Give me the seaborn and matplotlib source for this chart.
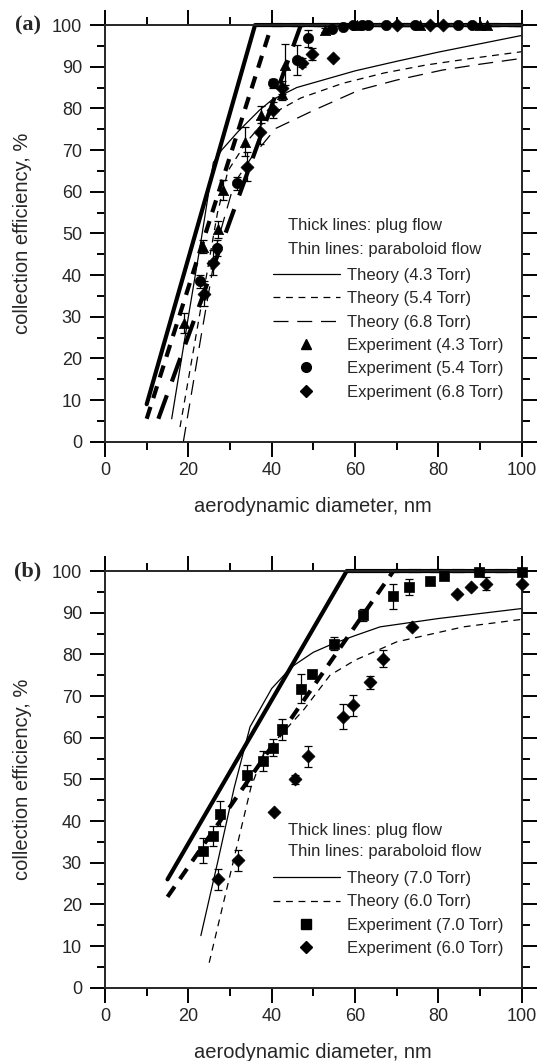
import numpy as np
import matplotlib
matplotlib.use("Agg")
import matplotlib.pyplot as plt
from matplotlib.lines import Line2D
import seaborn as sns

# ---------------- panel (a) ----------------
# plug flow (thick lines)
plug_a_43_x = [10, 36, 100]
plug_a_43_y = [9, 100, 100]
plug_a_54_x = [10, 40, 100]
plug_a_54_y = [5.5, 100, 100]
plug_a_68_x = [12.8, 47, 100]
plug_a_68_y = [5.5, 100, 100]

# paraboloid flow (thin lines)
par_a_43_x = [16, 20, 23, 26, 28, 32, 37, 40, 46, 53, 60, 70, 80, 90, 100]
par_a_43_y = [5.5, 30, 48, 67, 70, 74.5, 79.5, 82, 85, 87, 89, 91.3, 93.5, 95.5, 97.5]
par_a_54_x = [18, 22.8, 27, 29.5, 34, 39.6, 47, 57, 67, 77, 88, 100]
par_a_54_y = [3.5, 31, 55, 65, 72, 78.4, 82.5, 86, 88.5, 90.4, 92, 93.6]
par_a_68_x = [18.8, 23, 27, 31, 35, 41, 50, 61, 70, 81, 90, 100]
par_a_68_y = [0, 25, 48, 62, 68, 75.2, 79.5, 84.4, 86.8, 89.2, 90.6, 92]

# experiments
exp_a_43_x = [19.0, 23.6, 27.2, 28.2, 33.6, 37.5, 42.5, 43.2, 52.8, 60.5, 75.6, 90.0, 91.6]
exp_a_43_y = [28.5, 46.8, 51.0, 60.4, 72.0, 78.5, 83.5, 90.5, 98.8, 100, 100, 100, 100]
exp_a_43_e = [2.5, 1.5, 2.0, 2.5, 3.5, 2.0, 1.5, 5.0, 0.5, 0, 0, 0, 0]

exp_a_54_x = [22.8, 26.8, 31.6, 40.4, 46.0, 48.6, 54.5, 57.2, 59.6, 61.6, 63.2, 67.4, 74.4, 84.8, 88.0]
exp_a_54_y = [38.5, 46.5, 62.0, 86.0, 91.5, 96.8, 99.0, 99.6, 100, 100, 100, 100, 100, 100, 100]
exp_a_54_e = [1.5, 2.0, 1.5, 1.0, 3.6, 2.0, 0.5, 0.3, 0, 0, 0, 0, 0, 0, 0]

exp_a_68_x = [23.8, 26.0, 34.0, 37.2, 40.4, 42.4, 47.2, 49.6, 54.8, 70.0, 78.0, 81.2]
exp_a_68_y = [35.5, 43.0, 66.0, 74.4, 79.6, 85.0, 91.0, 93.0, 92.2, 100, 100, 100]
exp_a_68_e = [3.0, 3.0, 3.5, 3.0, 2.0, 1.5, 1.0, 1.5, 0, 0, 0, 0]

# ---------------- panel (b) ----------------
plug_b_70_x = [15, 58, 100]
plug_b_70_y = [26, 100, 100]
plug_b_60_x = [15, 69.2, 100]
plug_b_60_y = [21.8, 100, 100]

par_b_70_x = [23, 27, 31, 34.8, 40, 44.8, 50, 54.8, 60, 66, 80, 90, 100]
par_b_70_y = [12.5, 30, 48, 62.6, 71.8, 77, 80.5, 82.6, 84.5, 86.6, 88.6, 89.8, 91]
par_b_60_x = [25, 30, 35, 38, 42, 47.6, 54, 60, 70, 86, 100]
par_b_60_y = [6, 27, 48, 56, 60.5, 66.6, 75, 78.6, 83, 86.6, 88.4]

exp_b_70_x = [23.6, 26.0, 27.6, 34.0, 38.0, 40.2, 42.4, 47.0, 49.6, 55.0, 62.0, 69.0, 73.0, 78.0, 81.4, 89.8, 100]
exp_b_70_y = [32.9, 36.4, 41.7, 51.0, 54.4, 57.6, 62.0, 71.8, 75.3, 82.6, 89.5, 94.0, 96.2, 97.6, 98.9, 99.8, 99.8]
exp_b_70_e = [3.0, 2.5, 3.0, 2.5, 2.5, 2.0, 2.5, 3.5, 1.0, 1.5, 1.5, 3.0, 2.0, 0, 0, 1.0, 0]

exp_b_60_x = [27.0, 31.8, 40.6, 45.6, 48.8, 57.0, 59.4, 63.6, 66.6, 73.7, 84.5, 87.8, 91.4, 100]
exp_b_60_y = [26.0, 30.6, 42.1, 50.0, 55.5, 65.0, 67.8, 73.3, 79.0, 86.5, 94.5, 96.1, 97.0, 97.0]
exp_b_60_e = [2.5, 2.5, 0.3, 1.0, 2.5, 3.0, 2.5, 1.5, 2.0, 0.5, 0, 0.5, 1.5, 0]

# ---------------- styles ----------------
sns.set_style("ticks")
plt.rcParams['font.family'] = ['Liberation Sans', 'DejaVu Sans']

THICK = 3.0
THIN = 0.9
SHORT = (0, (3.0, 2.2))
LONG = (0, (6.0, 3.5))
THIN_SHORT = (0, (5.5, 4.5))
THIN_LONG = (0, (12, 7))
LEG_FS = 12


def line(ax, x, y, lw, ls):
    sns.lineplot(x=x, y=y, ax=ax, color='black', linewidth=lw, linestyle=ls,
                 estimator=None, sort=False, clip_on=False, legend=False)


def points(ax, x, y, e, marker, s):
    ax.errorbar(x, y, yerr=e, fmt='none', ecolor='black', elinewidth=0.9,
                capsize=3.2, capthick=0.9, zorder=3)
    sns.scatterplot(x=x, y=y, ax=ax, marker=marker, s=s, color='black',
                    edgecolor='black', linewidth=0.5, zorder=4, legend=False,
                    clip_on=False)


def style_axes(ax):
    ax.set_xlim(0, 100)
    ax.set_ylim(0, 100)
    ax.set_xticks(np.arange(0, 101, 20))
    ax.set_xticks(np.arange(10, 100, 20), minor=True)
    ax.set_yticks(np.arange(0, 101, 10))
    ax.set_yticks(np.arange(5, 100, 10), minor=True)
    for sp in ax.spines.values():
        sp.set_visible(True)
        sp.set_linewidth(1.4)
    ax.tick_params(which='both', direction='out', top=True, right=True,
                   labeltop=False, labelright=False, width=1.4, color='black')
    ax.tick_params(which='major', length=10.8, labelsize=13)
    ax.tick_params(which='minor', length=5.8)
    ax.tick_params(axis='x', which='major', pad=3.6)
    ax.tick_params(axis='y', which='major', pad=5.8)
    ax.set_xlabel('aerodynamic diameter, nm', fontsize=14.5)
    ax.set_ylabel('collection efficiency, %', fontsize=14.5)
    ax.xaxis.set_label_coords(0.5, -0.133)
    ax.yaxis.set_label_coords(-0.175, 0.5)


fig = plt.figure(figsize=(5.49, 10.61), dpi=100)
ax_a = fig.add_axes([0.1913, 0.5837, 0.759, 0.3927])
ax_b = fig.add_axes([0.1913, 0.0691, 0.759, 0.3927])

# ---- panel (a) drawing ----
line(ax_a, plug_a_43_x, plug_a_43_y, THICK, '-')
line(ax_a, plug_a_54_x, plug_a_54_y, THICK, SHORT)
line(ax_a, plug_a_68_x, plug_a_68_y, THICK, LONG)
line(ax_a, par_a_43_x, par_a_43_y, THIN, '-')
line(ax_a, par_a_54_x, par_a_54_y, THIN, THIN_SHORT)
line(ax_a, par_a_68_x, par_a_68_y, THIN, THIN_LONG)
points(ax_a, exp_a_43_x, exp_a_43_y, exp_a_43_e, '^', 55)
points(ax_a, exp_a_54_x, exp_a_54_y, exp_a_54_e, 'o', 55)
points(ax_a, exp_a_68_x, exp_a_68_y, exp_a_68_e, 'D', 44)
style_axes(ax_a)

handles_a = [
    Line2D([], [], color='black', lw=THIN, ls='-'),
    Line2D([], [], color='black', lw=THIN, ls=THIN_SHORT),
    Line2D([], [], color='black', lw=THIN, ls=THIN_LONG),
    Line2D([], [], color='black', ls='none', marker='^', ms=7),
    Line2D([], [], color='black', ls='none', marker='o', ms=7),
    Line2D([], [], color='black', ls='none', marker='D', ms=6),
]
labels_a = ['Theory (4.3 Torr)', 'Theory (5.4 Torr)', 'Theory (6.8 Torr)',
            'Experiment (4.3 Torr)', 'Experiment (5.4 Torr)', 'Experiment (6.8 Torr)']
ax_a.legend(handles_a, labels_a, loc='upper left', bbox_to_anchor=(0.403, 0.417),
            frameon=False, fontsize=LEG_FS, handlelength=4.0, handletextpad=0.42,
            labelspacing=0.5, borderpad=0, borderaxespad=0)
ax_a.text(0.439, 0.518, 'Thick lines: plug flow', transform=ax_a.transAxes,
          va='center', ha='left', fontsize=LEG_FS)
ax_a.text(0.439, 0.462, 'Thin lines: paraboloid flow', transform=ax_a.transAxes,
          va='center', ha='left', fontsize=LEG_FS)

# ---- panel (b) drawing ----
line(ax_b, plug_b_70_x, plug_b_70_y, THICK, '-')
line(ax_b, plug_b_60_x, plug_b_60_y, THICK, SHORT)
line(ax_b, par_b_70_x, par_b_70_y, THIN, '-')
line(ax_b, par_b_60_x, par_b_60_y, THIN, THIN_SHORT)
points(ax_b, exp_b_70_x, exp_b_70_y, exp_b_70_e, 's', 60)
points(ax_b, exp_b_60_x, exp_b_60_y, exp_b_60_e, 'D', 44)
style_axes(ax_b)

handles_b = [
    Line2D([], [], color='black', lw=THIN, ls='-'),
    Line2D([], [], color='black', lw=THIN, ls=THIN_SHORT),
    Line2D([], [], color='black', ls='none', marker='s', ms=7),
    Line2D([], [], color='black', ls='none', marker='D', ms=6),
]
labels_b = ['Theory (7.0 Torr)', 'Theory (6.0 Torr)',
            'Experiment (7.0 Torr)', 'Experiment (6.0 Torr)']
ax_b.legend(handles_b, labels_b, loc='upper left', bbox_to_anchor=(0.403, 0.280),
            frameon=False, fontsize=LEG_FS, handlelength=4.0, handletextpad=0.42,
            labelspacing=0.5, borderpad=0, borderaxespad=0)
ax_b.text(0.439, 0.378, 'Thick lines: plug flow', transform=ax_b.transAxes,
          va='center', ha='left', fontsize=LEG_FS)
ax_b.text(0.439, 0.326, 'Thin lines: paraboloid flow', transform=ax_b.transAxes,
          va='center', ha='left', fontsize=LEG_FS)

fig.text(0.051, 0.9764, '(a)', fontfamily='Liberation Serif', fontweight='bold',
         fontsize=16, ha='center', va='center')
fig.text(0.051, 0.4618, '(b)', fontfamily='Liberation Serif', fontweight='bold',
         fontsize=16, ha='center', va='center')

fig.savefig('out.png', dpi=100)
